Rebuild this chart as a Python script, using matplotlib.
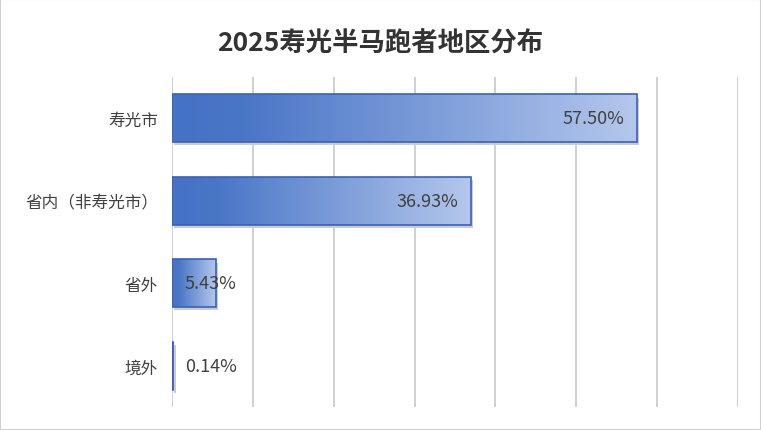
import matplotlib
matplotlib.use("Agg")
import matplotlib.pyplot as plt
import numpy as np
from matplotlib.colors import LinearSegmentedColormap
from matplotlib.patches import Rectangle

plt.rcParams['font.family'] = ['Noto Sans CJK SC', 'DejaVu Sans']

categories = ["寿光市", "省内（非寿光市）", "省外", "境外"]
values = [57.50, 36.93, 5.43, 0.14]
labels = ["57.50%", "36.93%", "5.43%", "0.14%"]

fig = plt.figure(figsize=(7.61, 4.31), dpi=100)
fig.patches.append(Rectangle((0, 0), 1, 1, transform=fig.transFigure, fill=False,
                             edgecolor="#d0d0d0", linewidth=1.5))
W, H = 761, 431
ax = fig.add_axes([172 / W, (H - 408) / H, (738 - 172) / W, (408 - 78) / H])
ax.set_xlim(0, 70)
ax.set_ylim(3.5, -0.5)
cmap = LinearSegmentedColormap.from_list("g", [(0, "#4472C4"), (0.15, "#4A76C7"), (1, "#B4C7EC")])
grad = np.linspace(0, 1, 256).reshape(1, -1)
h = 0.58
for i, v in enumerate(values):
    ax.add_patch(Rectangle((0.3, i - h / 2 + 0.04), v, h, color="#cccccc", zorder=2, lw=0))
    im = ax.imshow(grad, cmap=cmap, aspect="auto", extent=(0, v, i + h / 2, i - h / 2), zorder=3)
    r = Rectangle((0, i - h / 2), v, h, fill=False, edgecolor="#3A62B4", lw=1.2, zorder=4)
    ax.add_patch(r)
    im.set_clip_path(r)
    if v > 20:
        ax.text(v - 1.5, i, labels[i], ha="right", va="center", fontsize=13, color="#404040", zorder=5)
    else:
        ax.text(1.6, i, labels[i], ha="left", va="center", fontsize=13, color="#404040", zorder=5)
ax.set_xticks(np.arange(0, 71, 10))
ax.xaxis.grid(True, color="#c8c8c8", lw=1.2)
ax.set_axisbelow(True)
ax.tick_params(axis="x", labelbottom=False, length=0)
ax.set_yticks(range(4))
ax.set_yticklabels(categories, fontsize=12, color="#404040")
ax.tick_params(axis="y", length=0, pad=10)
for s in ax.spines.values():
    s.set_visible(False)
ax.set_aspect("auto")
fig.text(0.5, 1 - 44 / H, "2025寿光半马跑者地区分布", ha="center", va="center",
         fontsize=19, fontweight="bold", color="#333333")
fig.savefig("out.png", dpi=100)
